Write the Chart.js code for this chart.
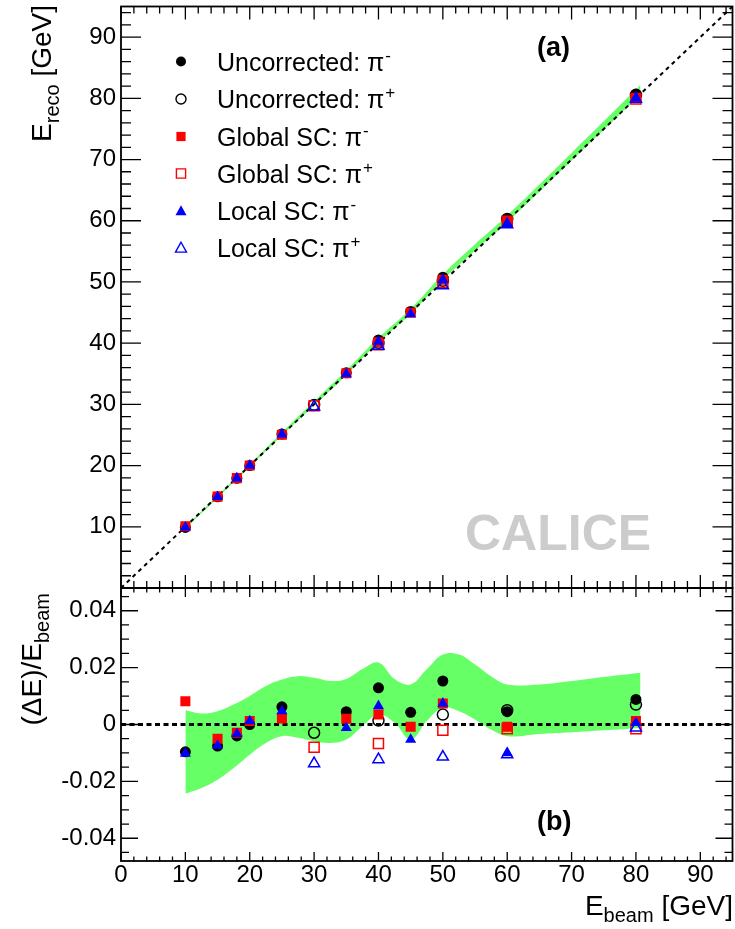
<!DOCTYPE html>
<html><head><meta charset="utf-8">
<script src="https://cdn.jsdelivr.net/npm/chart.js@4.4.0/dist/chart.umd.min.js"></script>
<style>
html,body{margin:0;padding:0;background:#fff;width:735px;height:929px;overflow:hidden;}
#cTop{position:absolute;left:0;top:0;}
#cBot{position:absolute;left:0;top:580px;}
</style></head><body>
<canvas id="cTop" width="735" height="600"></canvas>
<canvas id="cBot" width="735" height="349"></canvas>
<script>
// ---------------- data ----------------
const eMinus = [10, 15, 18, 20, 25, 35, 40, 45, 50, 60, 80];
const ePlus = [30, 40, 50, 60, 80];

// panel (a): reconstructed energy [GeV]
const uncorrMinusReco = [9.90, 14.89, 17.93, 20.00, 25.16, 35.16, 40.52, 45.19, 50.77, 60.27, 80.70];
const uncorrPlusReco = [29.91, 40.06, 50.18, 60.30, 80.56];
const globalMinusReco = [10.08, 14.93, 17.95, 20.02, 25.05, 35.07, 40.14, 44.96, 50.37, 59.95, 80.10];
const globalPlusReco = [29.76, 39.73, 49.90, 59.91, 79.88];
const localMinusReco = [9.90, 14.89, 17.94, 20.02, 25.12, 34.96, 40.26, 44.76, 50.37, 59.40, 80.05];
const localPlusReco = [29.59, 39.51, 49.43, 59.36, 79.90];

// panel (b): relative deviation (dE)/E_beam
const uncorrMinusRel = [-0.0096, -0.0076, -0.0040, 0.0000, 0.0062, 0.0045, 0.0129, 0.0043, 0.0153, 0.0045, 0.0088];
const uncorrPlusRel = [-0.0029, 0.0014, 0.0035, 0.0050, 0.0070];
const globalMinusRel = [0.0082, -0.0050, -0.0029, 0.0012, 0.0021, 0.0020, 0.0035, -0.0008, 0.0074, -0.0008, 0.0012];
const globalPlusRel = [-0.0080, -0.0067, -0.0020, -0.0015, -0.0015];
const localMinusRel = [-0.0102, -0.0074, -0.0033, 0.0012, 0.0047, -0.0012, 0.0065, -0.0053, 0.0074, -0.0100, 0.0006];
const localPlusRel = [-0.0137, -0.0123, -0.0114, -0.0106, -0.0012];

// uncertainty band, panel (b)
const bandRelX = [10, 12.5, 15, 17.5, 20, 22.5, 25, 27.5, 30, 32.5, 35, 37.5, 40, 42.5, 45, 47.5, 50, 52.5, 55, 57.5, 60, 65, 70, 75, 80.7];
const bandRelUpper = [0.0050, 0.0039, 0.0047, 0.0070, 0.0100, 0.0135, 0.0158, 0.0170, 0.0164, 0.0153, 0.0160, 0.0195, 0.0218, 0.0160, 0.0141, 0.0194, 0.0246, 0.0246, 0.0211, 0.0170, 0.0141, 0.0141, 0.0153, 0.0167, 0.0182];
const bandRelLower = [-0.0243, -0.0223, -0.0194, -0.0153, -0.0106, -0.0065, -0.0041, -0.0047, -0.0059, -0.0065, -0.0053, -0.0006, 0.0035, 0.0006, -0.0053, 0.0012, 0.0059, 0.0047, 0.0018, -0.0018, -0.0041, -0.0033, -0.0027, -0.0020, -0.0012];

// uncertainty band, panel (a) [GeV]
const bandRecoX = [10, 15, 20, 25, 30, 35, 40, 45, 50, 55, 60, 70, 80.7];
const bandRecoUpper = [10.05, 15.07, 20.20, 25.40, 30.49, 35.56, 40.87, 45.63, 51.23, 56.16, 60.85, 71.07, 82.17];
const bandRecoLower = [9.76, 14.71, 19.79, 24.90, 29.82, 34.81, 40.14, 44.76, 50.30, 55.10, 59.75, 69.81, 80.60];

// reference lines
const diagX = [0, 95];
const diagY = [0, 95];
const zeroX = [0, 95];
const zeroY = [0, 0];

// axes / ticks
const xTicks = [0, 10, 20, 30, 40, 50, 60, 70, 80, 90];
const xTickLabels = ['0', '10', '20', '30', '40', '50', '60', '70', '80', '90'];
const yTicksTop = [10, 20, 30, 40, 50, 60, 70, 80, 90];
const yTickLabelsTop = ['10', '20', '30', '40', '50', '60', '70', '80', '90'];
const yTicksBot = [-0.04, -0.02, 0, 0.02, 0.04];
const yTickLabelsBot = ['-0.04', '-0.02', '0', '0.02', '0.04'];

const seriesNames = ['Uncorrected: π', 'Uncorrected: π', 'Global SC: π', 'Global SC: π', 'Local SC: π', 'Local SC: π'];
const seriesCharges = ['-', '+', '-', '+', '-', '+'];

// ---------------- helpers ----------------
const FONT = "'Liberation Sans', Arial, Helvetica, sans-serif";
const GREEN = '#66ff66';
const pts = (xs, ys) => xs.map((x, i) => ({ x: x, y: ys[i] }));

const styles = [
  { ps: 'circle', col: '#000000', fill: true, r: 5.5 },
  { ps: 'circle', col: '#000000', fill: false, r: 5.5 },
  { ps: 'rect', col: '#ff0000', fill: true, r: 7.1 },
  { ps: 'rect', col: '#ff0000', fill: false, r: 7.1 },
  { ps: 'triangle', col: '#0000ff', fill: true, r: 6.4 },
  { ps: 'triangle', col: '#0000ff', fill: false, r: 6.4 }
];

function markerDataset(i, xs, ys) {
  const s = styles[i];
  return {
    type: 'line', showLine: false, data: pts(xs, ys), order: 6 - i,
    pointStyle: s.ps, pointRadius: s.r, pointHoverRadius: s.r,
    pointBackgroundColor: s.fill ? s.col : 'rgba(0,0,0,0)',
    pointBorderColor: s.col, pointBorderWidth: s.fill ? 0 : 1.5,
    borderColor: s.col, backgroundColor: s.col
  };
}
function bandDatasets(xs, up, lo) {
  return [
    { type: 'line', data: pts(xs, up), order: 20, borderWidth: 0, borderColor: GREEN,
      pointRadius: 0, tension: 0.4, fill: '+1', backgroundColor: GREEN },
    { type: 'line', data: pts(xs, lo), order: 19, borderWidth: 0, borderColor: GREEN,
      pointRadius: 0, tension: 0.4, fill: false }
  ];
}
function lineDataset(xs, ys, w, dash) {
  return { type: 'line', data: pts(xs, ys), order: 15, borderColor: '#000', borderWidth: w,
    borderDash: dash, pointRadius: 0, fill: false, tension: 0 };
}
function noPad(s) { s.paddingTop = 0; s.paddingBottom = 0; s.paddingLeft = 0; s.paddingRight = 0; }

function drawFrame(chart, c) {
  const { ctx, chartArea: a, scales } = chart;
  const xs = scales.x, ys = scales.y;
  ctx.save();
  ctx.strokeStyle = '#000';
  ctx.lineWidth = 1.3;
  ctx.beginPath();
  const kx0 = Math.ceil(xs.min / c.xStep - 1e-9), kx1 = Math.floor(xs.max / c.xStep + 1e-9);
  for (let k = kx0; k <= kx1; k++) {
    const px = xs.getPixelForValue(k * c.xStep);
    const L = (k % c.xEvery === 0) ? c.xMaj : c.xMin;
    ctx.moveTo(px, a.bottom); ctx.lineTo(px, a.bottom - L);
    ctx.moveTo(px, a.top); ctx.lineTo(px, a.top + L);
  }
  const ky0 = Math.ceil(ys.min / c.yStep - 1e-9), ky1 = Math.floor(ys.max / c.yStep + 1e-9);
  for (let k = ky0; k <= ky1; k++) {
    const py = ys.getPixelForValue(k * c.yStep);
    const L = (k % c.yEvery === 0) ? c.yMaj : c.yMin;
    ctx.moveTo(a.left, py); ctx.lineTo(a.left + L, py);
    ctx.moveTo(a.right, py); ctx.lineTo(a.right - L, py);
  }
  ctx.stroke();
  ctx.lineWidth = 1.8;
  ctx.strokeRect(a.left, a.top, a.right - a.left, a.bottom - a.top);
  ctx.restore();
}

function partsWidth(ctx, parts) {
  let w = 0;
  parts.forEach(p => { ctx.font = p.f; w += ctx.measureText(p.t).width; });
  return w;
}
function drawParts(ctx, x, y, parts) {
  let cx = x;
  parts.forEach(p => { ctx.font = p.f; ctx.fillText(p.t, cx, y + (p.dy || 0)); cx += ctx.measureText(p.t).width; });
}
function drawRotTitle(ctx, x, yEnd, parts) {
  ctx.save();
  ctx.translate(x, yEnd);
  ctx.rotate(-Math.PI / 2);
  ctx.fillStyle = '#000';
  ctx.textBaseline = 'alphabetic';
  const W = partsWidth(ctx, parts);
  drawParts(ctx, -W, 0, parts);
  ctx.restore();
}
function drawMarker(ctx, s, x, y, r) {
  ctx.save();
  ctx.beginPath();
  if (s.ps === 'circle') {
    ctx.arc(x, y, r, 0, Math.PI * 2);
  } else if (s.ps === 'rect') {
    ctx.rect(x - r, y - r, 2 * r, 2 * r);
  } else {
    ctx.moveTo(x, y - r * 1.05); ctx.lineTo(x + r, y + r * 0.75); ctx.lineTo(x - r, y + r * 0.75); ctx.closePath();
  }
  if (s.fill) { ctx.fillStyle = s.col; ctx.fill(); }
  else { ctx.strokeStyle = s.col; ctx.lineWidth = 1.4; ctx.stroke(); }
  ctx.restore();
}

const T = (s, b) => (b ? 'bold ' : '') + s + 'px ' + FONT;

// ---------------- top chart ----------------
const topDecor = {
  id: 'topDecor',
  afterDatasetsDraw(chart) {
    drawFrame(chart, { xStep: 2, xEvery: 5, xMaj: 13, xMin: 7, yStep: 2, yEvery: 5, yMaj: 20, yMin: 10 });
  },
  afterDraw(chart) {
    const ctx = chart.ctx;
    drawRotTitle(ctx, 51, 5, [
      { t: 'E', f: T(28) }, { t: 'reco', f: T(20), dy: 8 }, { t: ' [GeV]', f: T(28) }
    ]);
    const rowsY = [61.5, 99, 136.5, 173.5, 211, 248];
    const mr = [5, 5, 4.6, 4.6, 5.5, 5.5];
    ctx.save();
    ctx.fillStyle = '#000';
    ctx.textBaseline = 'alphabetic';
    for (let i = 0; i < 6; i++) {
      drawMarker(ctx, styles[i], 181, rowsY[i], mr[i]);
      ctx.font = T(25);
      ctx.fillStyle = '#000';
      ctx.fillText(seriesNames[i], 217, rowsY[i] + 9);
      const w = ctx.measureText(seriesNames[i]).width;
      ctx.font = T(17);
      ctx.fillText(seriesCharges[i], 217 + w + 1, rowsY[i] - 1);
    }
    ctx.font = T(27, true);
    ctx.fillText('(a)', 537, 56);
    ctx.fillStyle = '#cccccc';
    ctx.font = T(50, true);
    ctx.fillText('CALICE', 465, 550);
    ctx.restore();
  }
};

new Chart(document.getElementById('cTop'), {
  type: 'line',
  data: {
    datasets: [
      ...bandDatasets(bandRecoX, bandRecoUpper, bandRecoLower),
      lineDataset(diagX, diagY, 2, [4, 4]),
      markerDataset(0, eMinus, uncorrMinusReco),
      markerDataset(1, ePlus, uncorrPlusReco),
      markerDataset(2, eMinus, globalMinusReco),
      markerDataset(3, ePlus, globalPlusReco),
      markerDataset(4, eMinus, localMinusReco),
      markerDataset(5, ePlus, localPlusReco)
    ]
  },
  options: {
    responsive: false, animation: false, devicePixelRatio: 1,
    layout: { autoPadding: false, padding: { left: 0, right: 2.5, top: 6.5, bottom: 12 } },
    plugins: { legend: { display: false }, tooltip: { enabled: false } },
    scales: {
      x: { type: 'linear', min: 0, max: 95, display: false, afterFit: noPad },
      y: {
        type: 'linear', min: 0, max: 95,
        grid: { display: false, drawTicks: false }, border: { display: false },
        afterBuildTicks: s => { s.ticks = yTicksTop.map(v => ({ value: v })); },
        afterFit: s => { s.width = 121; noPad(s); },
        ticks: { padding: 5, color: '#000', font: { family: FONT, size: 24 },
          callback: (v, i) => yTickLabelsTop[i] }
      }
    }
  },
  plugins: [topDecor]
});

// ---------------- bottom chart ----------------
const botDecor = {
  id: 'botDecor',
  afterDatasetsDraw(chart) {
    drawFrame(chart, { xStep: 2, xEvery: 5, xMaj: 9, xMin: 4.5, yStep: 0.005, yEvery: 4, yMaj: 17, yMin: 8 });
  },
  afterDraw(chart) {
    const ctx = chart.ctx;
    drawRotTitle(ctx, 41, 13, [
      { t: '(ΔE)/E', f: T(28) }, { t: 'beam', f: T(20), dy: 8 }
    ]);
    ctx.save();
    ctx.fillStyle = '#000';
    ctx.textBaseline = 'alphabetic';
    const parts = [{ t: 'E', f: T(28) }, { t: 'beam', f: T(20), dy: 7 }, { t: ' [GeV]', f: T(28) }];
    const W = partsWidth(ctx, parts);
    drawParts(ctx, 733 - W, 335, parts);
    ctx.font = T(27, true);
    ctx.fillText('(b)', 537, 250);
    ctx.restore();
  }
};

new Chart(document.getElementById('cBot'), {
  type: 'line',
  data: {
    datasets: [
      ...bandDatasets(bandRelX, bandRelUpper, bandRelLower),
      lineDataset(zeroX, zeroY, 3, [5, 3.5]),
      markerDataset(0, eMinus, uncorrMinusRel),
      markerDataset(1, ePlus, uncorrPlusRel),
      markerDataset(2, eMinus, globalMinusRel),
      markerDataset(3, ePlus, globalPlusRel),
      markerDataset(4, eMinus, localMinusRel),
      markerDataset(5, ePlus, localPlusRel)
    ]
  },
  options: {
    responsive: false, animation: false, devicePixelRatio: 1,
    layout: { autoPadding: false, padding: { left: 0, right: 2.5, top: 8, bottom: 0 } },
    plugins: { legend: { display: false }, tooltip: { enabled: false } },
    scales: {
      x: {
        type: 'linear', min: 0, max: 95,
        grid: { display: false, drawTicks: false }, border: { display: false },
        afterBuildTicks: s => { s.ticks = xTicks.map(v => ({ value: v })); },
        afterFit: s => { s.height = 68; noPad(s); },
        ticks: { padding: 0, maxRotation: 0, autoSkip: false, color: '#000', font: { family: FONT, size: 24 },
          callback: (v, i) => xTickLabels[i] }
      },
      y: {
        type: 'linear', min: -0.048, max: 0.048,
        grid: { display: false, drawTicks: false }, border: { display: false },
        afterBuildTicks: s => { s.ticks = yTicksBot.map(v => ({ value: v })); },
        afterFit: s => { s.width = 121; noPad(s); },
        ticks: { padding: 5, color: '#000', font: { family: FONT, size: 24 },
          callback: (v, i) => yTickLabelsBot[i] }
      }
    }
  },
  plugins: [botDecor]
});
</script>
</body></html>
